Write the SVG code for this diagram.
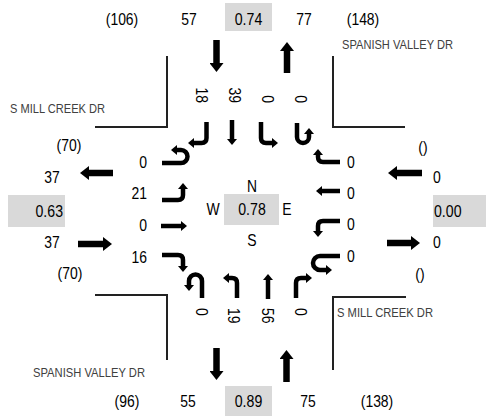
<svg xmlns="http://www.w3.org/2000/svg" width="486" height="416" viewBox="0 0 486 416">
<style>
text{font-family:"Liberation Sans",Arial,sans-serif;fill:#000}
.n{font-size:17px}
.st{font-size:13px;fill:#404040}
.box{fill:#d9d9d9}
.road{fill:none;stroke:#222;stroke-width:2}
.t{fill:none;stroke:#000;stroke-width:4.5;stroke-linejoin:round;marker-end:url(#ah)}
.b{fill:none;stroke:#000;stroke-width:6.5;marker-end:url(#bh)}
</style>
<defs>
<marker id="ah" markerUnits="userSpaceOnUse" viewBox="0 -5 6 10" refX="0" refY="0" markerWidth="6" markerHeight="10" orient="auto">
<path d="M0,-5 L6,0 L0,5 z" fill="#000"/>
</marker>
<marker id="bh" markerUnits="userSpaceOnUse" viewBox="0 -7 9 14" refX="0" refY="0" markerWidth="9" markerHeight="14" orient="auto">
<path d="M0,-7 L9,0 L0,7 z" fill="#000"/>
</marker>
</defs>

<g id="roads">
<path class="road" d="M95,127 H167 V56"/>
<path class="road" d="M333,56 V127 H405"/>
<path class="road" d="M95,295 H167 V360"/>
<path class="road" d="M333,370 V297 H406"/>
</g>

<g id="street-labels">
<text class="st" x="342" y="48.5" textLength="111" lengthAdjust="spacingAndGlyphs">SPANISH VALLEY DR</text>
<text class="st" x="10" y="112.5" textLength="95" lengthAdjust="spacingAndGlyphs">S MILL CREEK DR</text>
<text class="st" x="33" y="376.5" textLength="112" lengthAdjust="spacingAndGlyphs">SPANISH VALLEY DR</text>
<text class="st" x="337" y="316.5" textLength="96" lengthAdjust="spacingAndGlyphs">S MILL CREEK DR</text>
</g>

<g id="north">
<rect class="box" x="225" y="3" width="47" height="28"/>
<text class="n" x="122" y="24.5" text-anchor="middle" textLength="32.5" lengthAdjust="spacingAndGlyphs">(106)</text>
<text class="n" x="189" y="24.5" text-anchor="middle" textLength="15.5" lengthAdjust="spacingAndGlyphs">57</text>
<text class="n" x="248.5" y="24.5" text-anchor="middle" textLength="27.5" lengthAdjust="spacingAndGlyphs">0.74</text>
<text class="n" x="304" y="24.5" text-anchor="middle" textLength="15.5" lengthAdjust="spacingAndGlyphs">77</text>
<text class="n" x="363" y="24.5" text-anchor="middle" textLength="32.5" lengthAdjust="spacingAndGlyphs">(148)</text>
<text class="n" transform="translate(201,103) rotate(90)" text-anchor="end" dominant-baseline="central" textLength="15.5" lengthAdjust="spacingAndGlyphs">18</text>
<text class="n" transform="translate(234,103) rotate(90)" text-anchor="end" dominant-baseline="central" textLength="15.5" lengthAdjust="spacingAndGlyphs">39</text>
<text class="n" transform="translate(267,103) rotate(90)" text-anchor="end" dominant-baseline="central" textLength="7.8" lengthAdjust="spacingAndGlyphs">0</text>
<text class="n" transform="translate(300,103) rotate(90)" text-anchor="end" dominant-baseline="central" textLength="7.8" lengthAdjust="spacingAndGlyphs">0</text>
</g>

<g id="south">
<rect class="box" x="225" y="386" width="47" height="30"/>
<text class="n" x="127" y="407" text-anchor="middle" textLength="24.8" lengthAdjust="spacingAndGlyphs">(96)</text>
<text class="n" x="188" y="407" text-anchor="middle" textLength="15.5" lengthAdjust="spacingAndGlyphs">55</text>
<text class="n" x="248.5" y="407" text-anchor="middle" textLength="27.5" lengthAdjust="spacingAndGlyphs">0.89</text>
<text class="n" x="308" y="407" text-anchor="middle" textLength="15.5" lengthAdjust="spacingAndGlyphs">75</text>
<text class="n" x="377" y="407" text-anchor="middle" textLength="32.5" lengthAdjust="spacingAndGlyphs">(138)</text>
<text class="n" transform="translate(201,308) rotate(90)" dominant-baseline="central" textLength="7.8" lengthAdjust="spacingAndGlyphs">0</text>
<text class="n" transform="translate(233,308) rotate(90)" dominant-baseline="central" textLength="15.5" lengthAdjust="spacingAndGlyphs">19</text>
<text class="n" transform="translate(267,308) rotate(90)" dominant-baseline="central" textLength="15.5" lengthAdjust="spacingAndGlyphs">56</text>
<text class="n" transform="translate(300,308) rotate(90)" dominant-baseline="central" textLength="7.8" lengthAdjust="spacingAndGlyphs">0</text>
</g>

<g id="west">
<rect class="box" x="8" y="195" width="57" height="32"/>
<text class="n" x="69" y="151" text-anchor="middle" textLength="24.8" lengthAdjust="spacingAndGlyphs">(70)</text>
<text class="n" x="52" y="183" text-anchor="middle" textLength="15.5" lengthAdjust="spacingAndGlyphs">37</text>
<text class="n" x="63" y="217" text-anchor="end" textLength="27.5" lengthAdjust="spacingAndGlyphs">0.63</text>
<text class="n" x="52" y="248" text-anchor="middle" textLength="15.5" lengthAdjust="spacingAndGlyphs">37</text>
<text class="n" x="70" y="279" text-anchor="middle" textLength="24.8" lengthAdjust="spacingAndGlyphs">(70)</text>
<text class="n" x="147" y="168" text-anchor="end" textLength="7.8" lengthAdjust="spacingAndGlyphs">0</text>
<text class="n" x="147" y="199" text-anchor="end" textLength="15.5" lengthAdjust="spacingAndGlyphs">21</text>
<text class="n" x="147" y="231" text-anchor="end" textLength="7.8" lengthAdjust="spacingAndGlyphs">0</text>
<text class="n" x="147" y="263" text-anchor="end" textLength="15.5" lengthAdjust="spacingAndGlyphs">16</text>
</g>

<g id="east">
<rect class="box" x="433" y="195" width="53" height="32"/>
<text class="n" x="423" y="153" text-anchor="middle" textLength="9.3" lengthAdjust="spacingAndGlyphs">()</text>
<text class="n" x="437" y="183" text-anchor="middle" textLength="7.8" lengthAdjust="spacingAndGlyphs">0</text>
<text class="n" x="434" y="217" textLength="27.5" lengthAdjust="spacingAndGlyphs">0.00</text>
<text class="n" x="437" y="248" text-anchor="middle" textLength="7.8" lengthAdjust="spacingAndGlyphs">0</text>
<text class="n" x="420" y="280" text-anchor="middle" textLength="9.3" lengthAdjust="spacingAndGlyphs">()</text>
<text class="n" x="347" y="168" textLength="7.8" lengthAdjust="spacingAndGlyphs">0</text>
<text class="n" x="347" y="199" textLength="7.8" lengthAdjust="spacingAndGlyphs">0</text>
<text class="n" x="347" y="230" textLength="7.8" lengthAdjust="spacingAndGlyphs">0</text>
<text class="n" x="347" y="262" textLength="7.8" lengthAdjust="spacingAndGlyphs">0</text>
</g>

<g id="center">
<rect class="box" x="224" y="194" width="55" height="31"/>
<text class="n" x="252" y="192" text-anchor="middle" textLength="10" lengthAdjust="spacingAndGlyphs">N</text>
<text class="n" x="213" y="215" text-anchor="middle" textLength="13.2" lengthAdjust="spacingAndGlyphs">W</text>
<text class="n" x="252" y="215" text-anchor="middle" textLength="27.5" lengthAdjust="spacingAndGlyphs">0.78</text>
<text class="n" x="287" y="215" text-anchor="middle" textLength="9.3" lengthAdjust="spacingAndGlyphs">E</text>
<text class="n" x="252" y="246" text-anchor="middle" textLength="9.3" lengthAdjust="spacingAndGlyphs">S</text>
</g>

<g id="arrows">
<path class="b" d="M216.5,40 V63"/>
<path class="b" d="M287,73 V51"/>
<path class="b" d="M216.5,348 V371"/>
<path class="b" d="M286.5,382 V359"/>
<path class="b" d="M113,173 H89"/>
<path class="b" d="M78,244 H103"/>
<path class="b" d="M422,173 H397"/>
<path class="b" d="M387,243 H411"/>
<path class="t" d="M206.5,122 V138 Q206.5,143 201.5,143 H194"/>
<path class="t" d="M232,120 V139"/>
<path class="t" d="M261,122 V138 Q261,143 266,143 H272"/>
<path class="t" d="M297,123 V137 A6,6 0 0 0 309,137 V134"/>
<path class="t" d="M340,162 H323 Q318,162 318,157 V155"/>
<path class="t" d="M340,191 H322"/>
<path class="t" d="M340,221 H323 Q318,221 318,226 V231"/>
<path class="t" d="M340,256 H320 A7,7 0 0 0 320,270 H326"/>
<path class="t" d="M202,298 V281 A6.5,6.5 0 0 0 189,281 V285"/>
<path class="t" d="M237,298 V283 Q237,278 232,278 H229"/>
<path class="t" d="M268,299 V280"/>
<path class="t" d="M296,298 V283 Q296,278 301,278 H306"/>
<path class="t" d="M162,163 H181 A6.5,6.5 0 0 0 181,150 H177"/>
<path class="t" d="M162,200 H178 Q183,200 183,195 V189"/>
<path class="t" d="M161,226 H181"/>
<path class="t" d="M162,255 H178 Q183,255 183,260 V266"/>
</g>
</svg>
